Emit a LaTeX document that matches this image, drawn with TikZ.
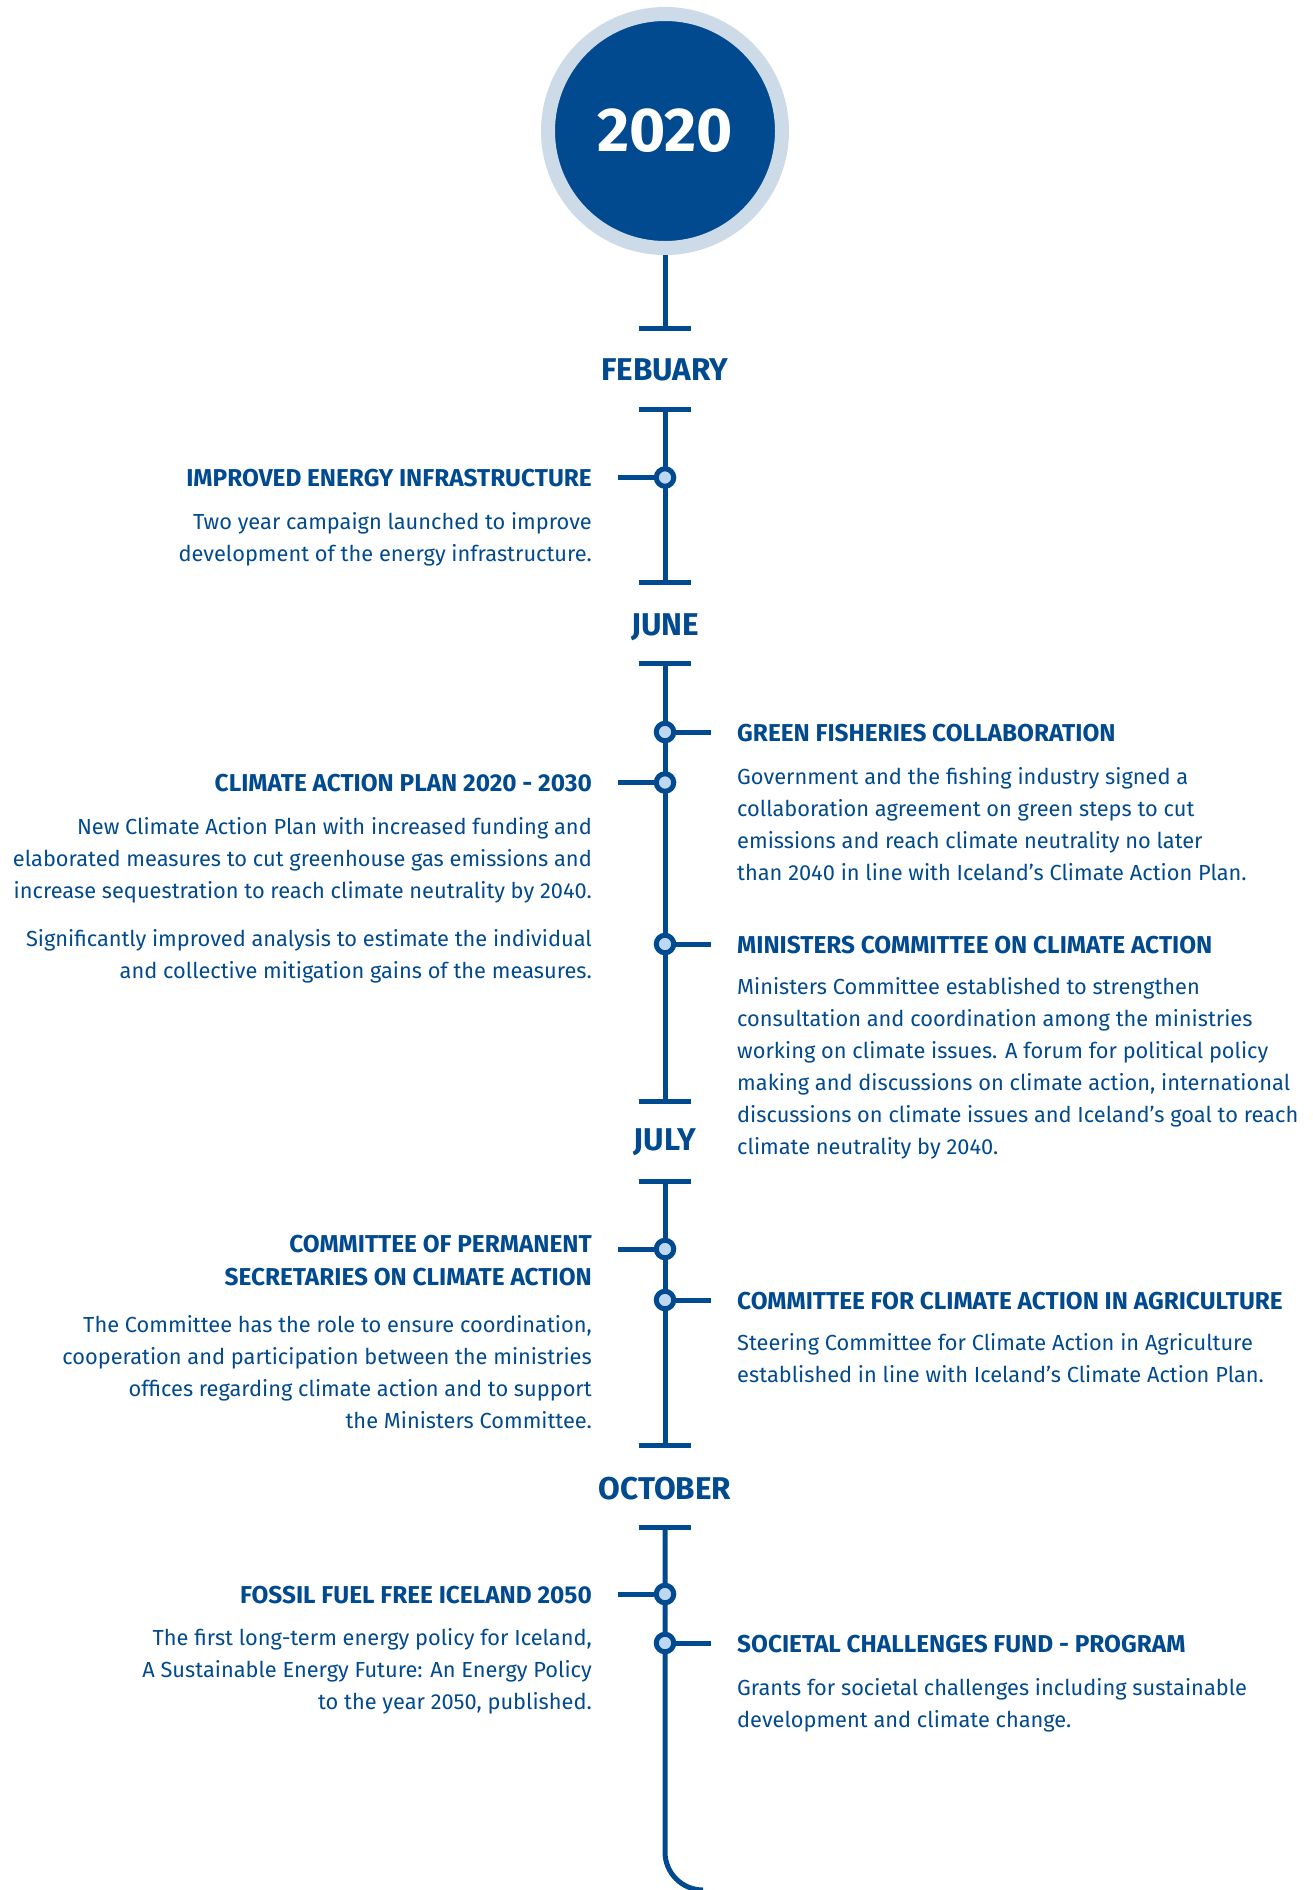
\documentclass[tikz,border=0pt]{standalone}
\usepackage{fontspec}
\setmainfont{Fira Sans}
\definecolor{tlblue}{HTML}{014A8F}
\definecolor{tlring}{HTML}{CDDAE8}
\definecolor{tldot}{HTML}{BDD8F0}
\tikzset{
  mainline/.style={draw=tlblue, line width=5pt},
  tickline/.style={draw=tlblue, line width=5pt},
  evdot/.style={circle, draw=tlblue, fill=tldot, line width=5pt, minimum size=17.5pt, inner sep=0pt},
  monthlbl/.style={inner sep=0pt, text=tlblue, font=\fontsize{31.5}{36}\selectfont\bfseries},
  lhead/.style={anchor=north east, inner sep=0pt, text=tlblue, align=right, font=\fontsize{24.4}{33}\selectfont\bfseries, execute at begin node=\strut},
  rhead/.style={anchor=north west, inner sep=0pt, text=tlblue, align=left, font=\fontsize{24.4}{33}\selectfont\bfseries, execute at begin node=\strut},
  lbody/.style={anchor=north east, inner sep=0pt, text=tlblue, align=right, font=\fontsize{21.8}{32}\selectfont, execute at begin node=\strut},
  rbody/.style={anchor=north west, inner sep=0pt, text=tlblue, align=left, font=\fontsize{21.8}{32}\selectfont, execute at begin node=\strut},
}
\begin{document}
\begin{tikzpicture}[x=1pt, y=-1pt]
\useasboundingbox (0,0) rectangle (1313,1890);
% year circle
\node[circle, fill=tlblue, draw=tlring, line width=14pt, minimum size=234pt, inner sep=0pt,
      text=white, font=\fontsize{62}{70}\selectfont\bfseries] (year) at (665,131) {2020};
% tick coordinates
\coordinate (t1) at (665,328.5);
\coordinate (t2) at (665,409);
\coordinate (t3) at (665,582.5);
\coordinate (t4) at (665,663);
\coordinate (t5) at (665,1101);
\coordinate (t6) at (665,1181.5);
\coordinate (t7) at (665,1445.5);
\coordinate (t8) at (665,1527.5);
\coordinate (bend) at (665,1852);
\coordinate (tail) at (703,1890);
% month labels
\node[monthlbl] (feb) at (665,370) {FEBUARY};
\node[monthlbl] (jun) at (665,627) {JUNE};
\node[monthlbl] (jul) at (665,1142) {JULY};
\node[monthlbl] (oct) at (665,1488.5) {OCTOBER};
% main line segments
\draw[mainline] (year.south) -- (t1);
\draw[mainline] (t2) -- (t3);
\draw[mainline] (t4) -- (t5);
\draw[mainline] (t6) -- (t7);
\draw[mainline] (t8) -- (bend) .. controls (665,1873) and (682,1890) .. (tail);
% ticks
\foreach \t in {t1,t2,t3,t4,t5,t6,t7,t8}
  \draw[tickline] ([xshift=-26pt]\t) -- ([xshift=26pt]\t);
% stub ends
\coordinate (s1) at (618,477.5);
\coordinate (s2) at (711,732);
\coordinate (s3) at (618,782.5);
\coordinate (s4) at (711,944);
\coordinate (s5) at (618,1249);
\coordinate (s6) at (711,1300);
\coordinate (s7) at (618,1594);
\coordinate (s8) at (711,1643);
% dots
\node[evdot] (d1) at (665,477.5) {};
\node[evdot] (d2) at (665,732) {};
\node[evdot] (d3) at (665,782.5) {};
\node[evdot] (d4) at (665,944) {};
\node[evdot] (d5) at (665,1249) {};
\node[evdot] (d6) at (665,1300) {};
\node[evdot] (d7) at (665,1594) {};
\node[evdot] (d8) at (665,1643) {};
\draw[mainline] (d1.west) -- (s1);
\draw[mainline] (d2.east) -- (s2);
\draw[mainline] (d3.west) -- (s3);
\draw[mainline] (d4.east) -- (s4);
\draw[mainline] (d5.west) -- (s5);
\draw[mainline] (d6.east) -- (s6);
\draw[mainline] (d7.west) -- (s7);
\draw[mainline] (d8.east) -- (s8);
% left texts
\node[lhead] (h1) at (592,463.5) {IMPROVED ENERGY INFRASTRUCTURE};
\node[lbody] (b1) at (592,512) {Two year campaign launched to improve\\development of the energy infrastructure.};
\node[lhead] (h3) at (592,768.5) {CLIMATE ACTION PLAN 2020 - 2030};
\node[lbody] (b3) at (592,817) {New Climate Action Plan with increased funding and\\elaborated measures to cut greenhouse gas emissions and\\increase sequestration to reach climate neutrality by 2040.\\[16pt]Significantly improved analysis to estimate the individual\\and collective mitigation gains of the measures.};
\node[lhead] (h5) at (592,1235) {COMMITTEE OF PERMANENT\\SECRETARIES ON CLIMATE ACTION};
\node[lbody] (b5) at (592,1315.5) {The Committee has the role to ensure coordination,\\cooperation and participation between the ministries\\offices regarding climate action and to support\\the Ministers Committee.};
\node[lhead] (h7) at (592,1580) {FOSSIL FUEL FREE ICELAND 2050};
\node[lbody] (b7) at (592,1628.5) {The first long-term energy policy for Iceland,\\A Sustainable Energy Future: An Energy Policy\\to the year 2050, published.};
% right texts
\node[rhead] (h2) at (737,718) {GREEN FISHERIES COLLABORATION};
\node[rbody] (b2) at (737,767) {Government and the fishing industry signed a\\collaboration agreement on green steps to cut\\emissions and reach climate neutrality no later\\than 2040 in line with Iceland’s Climate Action Plan.};
\node[rhead] (h4) at (737,930) {MINISTERS COMMITTEE ON CLIMATE ACTION};
\node[rbody] (b4) at (737,977) {Ministers Committee established to strengthen\\consultation and coordination among the ministries\\working on climate issues. A forum for political policy\\making and discussions on climate action, international\\discussions on climate issues and Iceland’s goal to reach\\climate neutrality by 2040.};
\node[rhead] (h6) at (737,1286) {COMMITTEE FOR CLIMATE ACTION IN AGRICULTURE};
\node[rbody] (b6) at (737,1333.5) {Steering Committee for Climate Action in Agriculture\\established in line with Iceland’s Climate Action Plan.};
\node[rhead] (h8) at (737,1629) {SOCIETAL CHALLENGES FUND - PROGRAM};
\node[rbody] (b8) at (737,1678.5) {Grants for societal challenges including sustainable\\development and climate change.};
\end{tikzpicture}
\end{document}
